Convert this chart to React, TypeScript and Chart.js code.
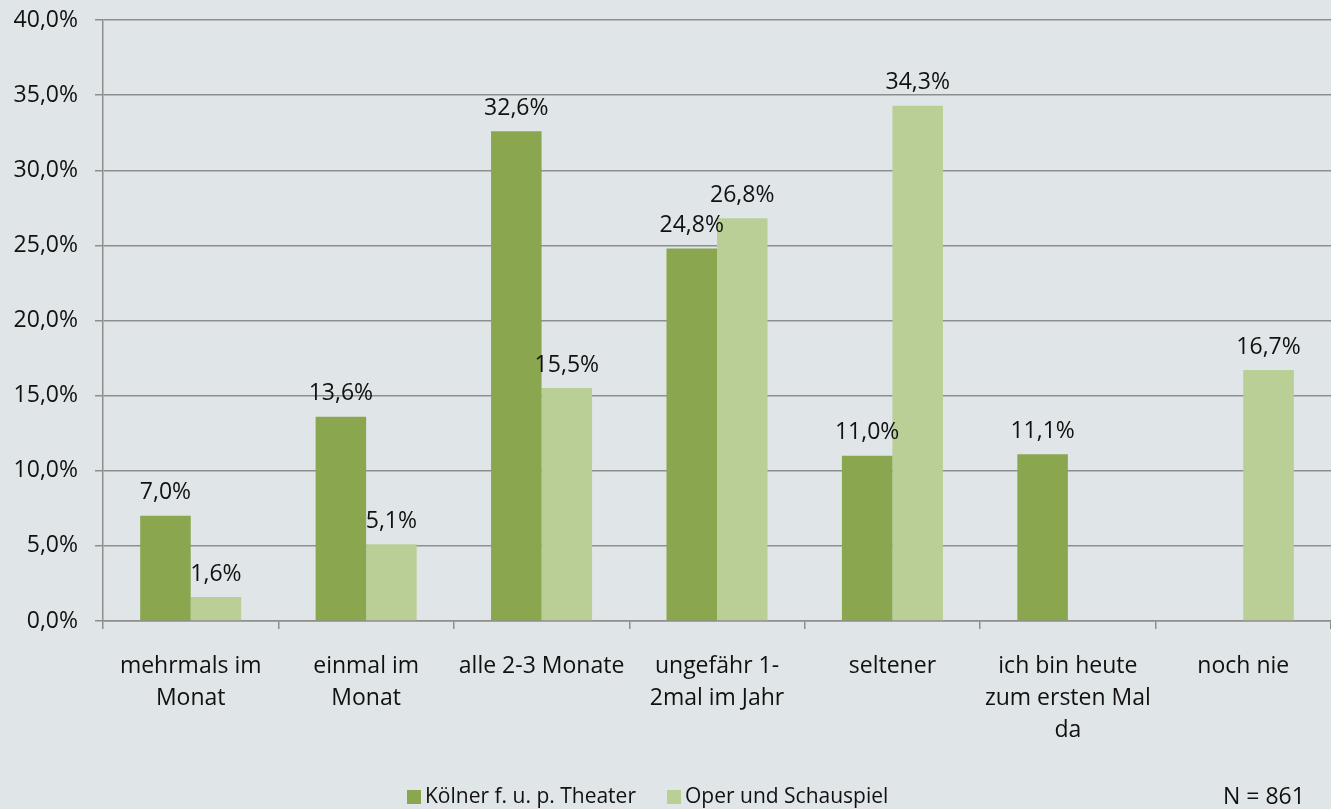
import React, { useEffect, useRef } from "react";
import { Chart, registerables } from "chart.js";

Chart.register(...registerables);

const categories: (string | string[])[] = [
  ["mehrmals im", "Monat"],
  ["einmal im", "Monat"],
  "alle 2-3 Monate",
  ["ungefähr 1-", "2mal im Jahr"],
  "seltener",
  ["ich bin heute", "zum ersten Mal", "da"],
  "noch nie",
];
const seriesNames = ["Kölner f. u. p. Theater", "Oper und Schauspiel"];
const koelnerValues = [7.0, 13.6, 32.6, 24.8, 11.0, 11.1, 0];
const operValues = [1.6, 5.1, 15.5, 26.8, 34.3, 0, 16.7];
const yTicks = [0, 5, 10, 15, 20, 25, 30, 35, 40];
const noteText = "N = 861";

const COLORS = ["#8aa64f", "#bacf96"];
const FONT = "'Open Sans', sans-serif";
const FS = 23;

const fmt = (v: number) => v.toFixed(1).replace(".", ",") + "%";

const overlayPlugin = {
  id: "overlay",
  afterDatasetsDraw(chart: any) {
    const ctx = chart.ctx;
    ctx.save();
    ctx.font = `${FS}px ${FONT}`;
    ctx.fillStyle = "#111";
    ctx.textAlign = "center";
    ctx.textBaseline = "middle";
    chart.data.datasets.forEach((ds: any, di: number) => {
      const meta = chart.getDatasetMeta(di);
      meta.data.forEach((bar: any, i: number) => {
        const v = ds.data[i];
        if (!v) return;
        ctx.fillText(fmt(v), bar.x, bar.y - 23);
      });
    });
    // legend
    const legendY = 797;
    const items = [
      { x: 407, label: seriesNames[0], color: COLORS[0] },
      { x: 667, label: seriesNames[1], color: COLORS[1] },
    ];
    ctx.textAlign = "left";
    ctx.font = `21px ${FONT}`;
    items.forEach((it) => {
      ctx.fillStyle = it.color;
      ctx.fillRect(it.x, legendY - 7, 14, 14);
      ctx.fillStyle = "#111";
      ctx.fillText(it.label, it.x + 18, legendY);
    });
    ctx.font = `${FS}px ${FONT}`;
    ctx.fillText(noteText, 1223, legendY);
    ctx.restore();
  },
};

export default function App() {
  const ref = useRef<HTMLCanvasElement | null>(null);
  useEffect(() => {
    if (!ref.current) return;
    const chart = new Chart(ref.current, {
      type: "bar",
      data: {
        labels: categories as any,
        datasets: [
          {
            label: seriesNames[0],
            data: koelnerValues,
            backgroundColor: COLORS[0],
            categoryPercentage: 0.576,
            barPercentage: 1,
          },
          {
            label: seriesNames[1],
            data: operValues,
            backgroundColor: COLORS[1],
            categoryPercentage: 0.576,
            barPercentage: 1,
          },
        ],
      },
      options: {
        responsive: false,
        animation: false,
        layout: { padding: { top: 20, right: 0, left: 0, bottom: 0 } },
        plugins: {
          legend: { display: false },
          tooltip: { enabled: false },
        },
        scales: {
          x: {
            grid: {
              display: true,
              drawOnChartArea: false,
              drawTicks: true,
              tickLength: 8,
              color: "#8e8e8e",
              lineWidth: 1.5,
              offset: true,
            },
            border: { display: true, color: "#8e8e8e", width: 1.5 },
            ticks: {
              font: { family: FONT, size: FS, lineHeight: 32 / FS },
              color: "#111",
              padding: 21,
              maxRotation: 0,
              autoSkip: false,
            },
            afterFit(scale: any) {
              scale.height = 188;
              scale.paddingLeft = 0;
              scale.paddingRight = 0;
            },
          },
          y: {
            min: 0,
            max: 40,
            afterBuildTicks(scale: any) {
              scale.ticks = yTicks.map((v) => ({ value: v }));
            },
            grid: {
              color: "#8e8e8e",
              lineWidth: 1.5,
              drawTicks: true,
              tickLength: 8,
            },
            border: { display: true, color: "#8e8e8e", width: 1.5 },
            ticks: {
              font: { family: FONT, size: FS },
              color: "#111",
              padding: 17,
              callback: (v: any) => fmt(Number(v)),
            },
            afterFit(scale: any) {
              scale.width = 103;
              scale.paddingTop = 0;
              scale.paddingBottom = 0;
            },
          },
        },
      },
      plugins: [overlayPlugin],
    });
    return () => chart.destroy();
  }, []);
  return (
    <div
      style={{
        position: "fixed",
        left: 0,
        top: 0,
        width: 1331,
        height: 809,
        background: "#e0e5e8",
      }}
    >
      <canvas ref={ref} width={1331} height={809} />
    </div>
  );
}
